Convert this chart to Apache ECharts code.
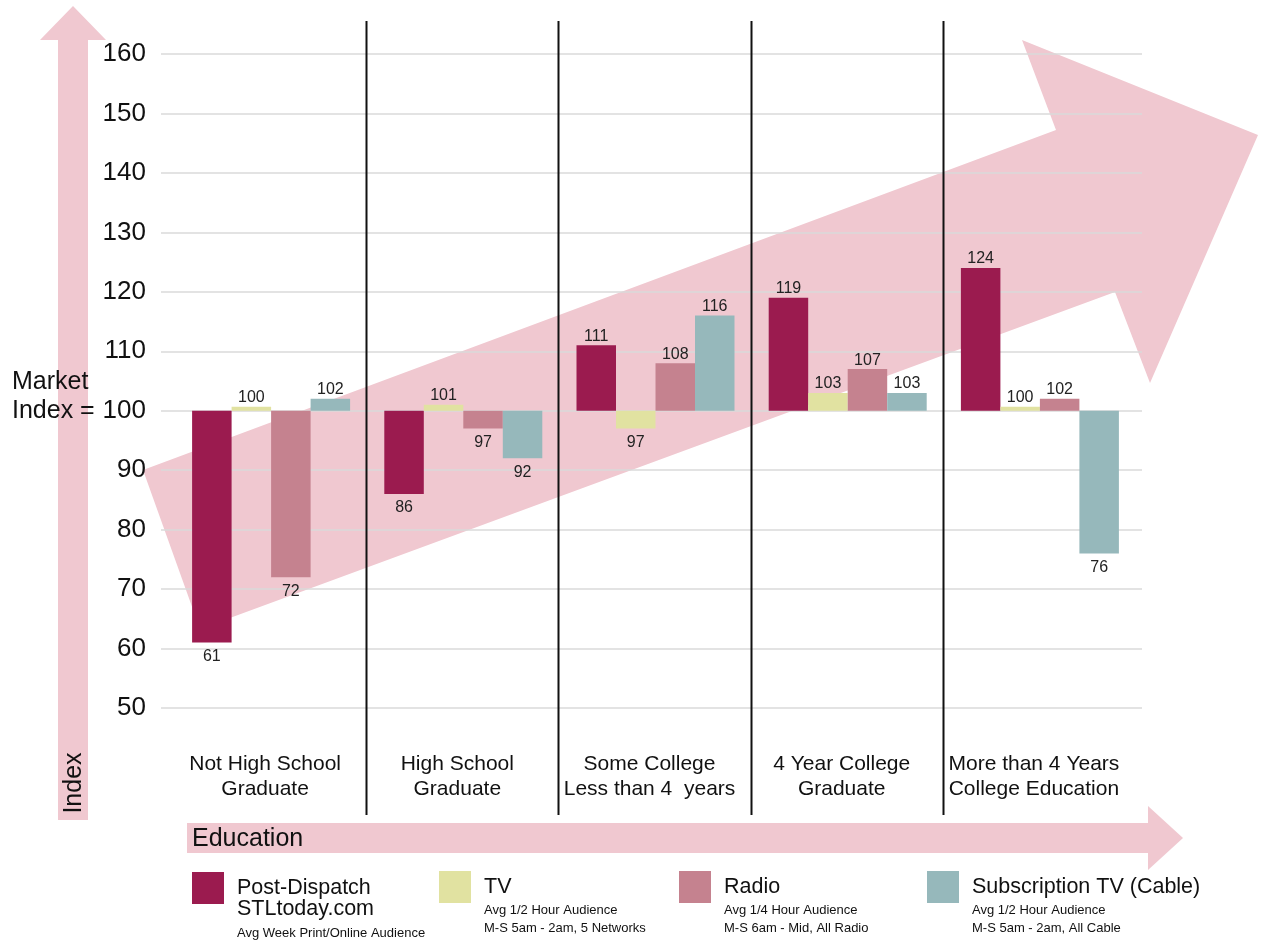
<!DOCTYPE html>
<html><head><meta charset="utf-8">
<script src="https://cdn.jsdelivr.net/npm/echarts@6/dist/echarts.min.js"></script>
<style>html,body{margin:0;padding:0;background:#fff}#c{width:1263px;height:943px}</style>
</head><body><div id="c"></div>
<script>
// ---- data ----
const categories = ['Not High School\nGraduate', 'High School\nGraduate', 'Some College\nLess than 4  years', '4 Year College\nGraduate', 'More than 4 Years\nCollege Education'];
const seriesNames = ['Post-Dispatch\nSTLtoday.com', 'TV', 'Radio', 'Subscription TV (Cable)'];
const postDispatch = [61, 86, 111, 119, 124];
const tv = [100, 101, 97, 103, 100];
const radio = [72, 97, 108, 107, 102];
const cable = [102, 92, 116, 103, 76];
const marketIndex = 100;
const yMin = 50, yMax = 160, yInterval = 10;
const legendSubLines = [
  ['Avg Week Print/Online Audience'],
  ['Avg 1/2 Hour Audience', 'M-S 5am - 2am, 5 Networks'],
  ['Avg 1/4 Hour Audience', 'M-S 6am - Mid, All Radio'],
  ['Avg 1/2 Hour Audience', 'M-S 5am - 2am, All Cable']
];

// ---- styles ----
const FONT = 'Liberation Sans, Arial, Helvetica, sans-serif';
const colors = ['#9b1b4f', '#e1e2a1', '#c5828f', '#96b8bb'];
const PINK = '#f0c8d0';
const allValues = [postDispatch, tv, radio, cable];

const chart = echarts.init(document.getElementById('c'), null, {renderer: 'canvas'});

const series = [];
allValues.forEach((vals, i) => {
  series.push({
    name: 'base' + i, type: 'bar', stack: 's' + i, silent: true,
    xAxisIndex: 0, yAxisIndex: 0,
    barWidth: 39.5, barGap: '0%',
    itemStyle: {color: 'rgba(0,0,0,0)'},
    data: vals.map(v => Math.min(v, marketIndex)),
    z: 2
  });
  series.push({
    name: seriesNames[i], type: 'bar', stack: 's' + i,
    xAxisIndex: 0, yAxisIndex: 0,
    barWidth: 39.5, barGap: '0%', barMinHeight: 4,
    itemStyle: {color: colors[i]},
    label: {
      show: true, fontFamily: FONT, fontSize: 16, color: '#222',
      formatter: p => String(vals[p.dataIndex])
    },
    data: vals.map(v => ({value: Math.abs(v - marketIndex),
      label: v >= marketIndex ? {position: 'top', distance: 1} : {position: 'bottom', distance: 6}})),
    z: 3
  });
});

const legendX = [192, 439, 679, 927];
const legends = seriesNames.map((n, i) => ({
  data: [n], left: legendX[i], top: i === 0 ? 856 : 871, padding: 0,
  orient: 'horizontal', icon: 'rect', itemWidth: 32, itemHeight: 32,
  selectedMode: false,
  formatter: name => (i === 0 ? ' \n' + name : name),
  textStyle: {fontFamily: FONT, fontSize: 21.5, color: '#111', lineHeight: 21,
    padding: i === 0 ? [0, 0, 0, 8] : [4, 0, 0, 8]}
}));

const option = {
  animation: false,
  backgroundColor: '#fff',
  legend: legends,
  grid: [
    {left: 175, width: 961, top: 54, height: 654},
    {left: 161, width: 981, top: 54, height: 654}
  ],
  xAxis: [
    {type: 'category', gridIndex: 0, data: categories,
      axisLine: {show: false}, axisTick: {show: false}, splitLine: {show: false},
      axisLabel: {interval: 0, fontFamily: FONT, fontSize: 21, lineHeight: 25, color: '#111', margin: 44, padding: [0, 12, 0, 0]}},
    {type: 'value', gridIndex: 1, show: false, min: 0, max: 1}
  ],
  yAxis: [
    {type: 'value', gridIndex: 0, min: yMin, max: yMax, interval: yInterval, show: false, splitLine: {show: false}},
    {type: 'value', gridIndex: 1, min: yMin, max: yMax, interval: yInterval, z: 1,
      axisLine: {show: false}, axisTick: {show: false},
      axisLabel: {fontFamily: FONT, fontSize: 26, color: '#111', margin: 15},
      splitLine: {lineStyle: {color: '#dadada', width: 1.5}}}
  ],
  series: series
};
chart.setOption(option);

// ---- decorations ----
const centers = categories.map((c, i) => chart.convertToPixel({xAxisIndex: 0}, i));
const seps = [];
for (let i = 0; i < centers.length - 1; i++) {
  const x = Math.round((centers[i] + centers[i + 1]) / 2) - 0.5;
  seps.push({type: 'line', z: 5, silent: true, shape: {x1: x, y1: 21, x2: x, y2: 815}, style: {stroke: '#111', lineWidth: 2}});
}
const textEls = [];
const legendTextX = [237, 484, 724, 972];
legendSubLines.forEach((lines, i) => {
  lines.forEach((t, j) => {
    const y = i === 0 ? 933 : (j === 0 ? 910 : 928);
    textEls.push({type: 'text', z: 10, left: legendTextX[i], top: y - 6,
      style: {text: t, fontFamily: FONT, fontSize: 13, fill: '#111'}});
  });
});

chart.setOption({
  graphic: [
    {type: 'polygon', z: 0, silent: true, shape: {points: [[143,470],[1056,130],[1022,40],[1258,135],[1150,383],[1115,292],[200,629]]}, style: {fill: PINK}},
    {type: 'polygon', z: 0, silent: true, shape: {points: [[58,820],[58,40],[40,40],[73,6],[106,40],[88,40],[88,820]]}, style: {fill: PINK}},
    {type: 'polygon', z: 0, silent: true, shape: {points: [[187,823],[1148,823],[1148,806],[1183,838],[1148,870],[1148,853],[187,853]]}, style: {fill: PINK}},
    ...seps,
    {type: 'text', z: 10, left: 12, top: 370, style: {text: 'Market', fontFamily: FONT, fontSize: 25, fill: '#111'}},
    {type: 'text', z: 10, left: 12, top: 399, style: {text: 'Index =', fontFamily: FONT, fontSize: 25, fill: '#111'}},
    {type: 'text', z: 10, x: 74, y: 783, rotation: Math.PI / 2, style: {text: 'Index', fontFamily: FONT, fontSize: 25, fill: '#111', align: 'center', verticalAlign: 'middle'}},
    {type: 'text', z: 10, left: 192, top: 827, style: {text: 'Education', fontFamily: FONT, fontSize: 25, fill: '#111'}},
    ...textEls
  ]
});
</script>
</body></html>
